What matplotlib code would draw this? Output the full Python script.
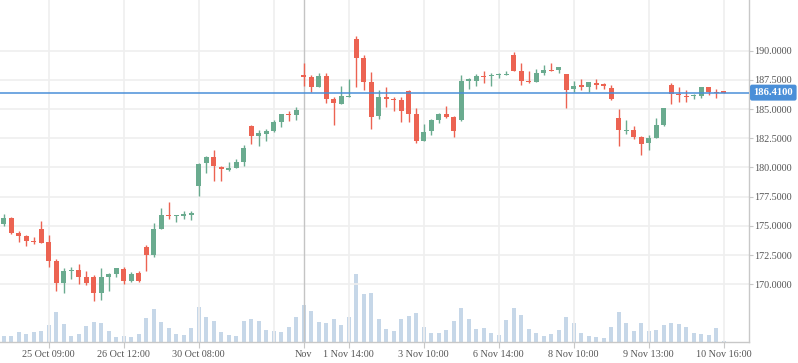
import matplotlib
matplotlib.use('Agg')
import matplotlib.pyplot as plt
import matplotlib.transforms as mtransforms

# candle data (one entry per bar)
opens = [175.16, 175.68, 174.36, 174.13, 173.71, 174.73, 173.62, 172.00, 170.14, 171.15,
         171.22, 170.60, 170.60, 169.28, 170.65, 170.88, 171.31, 170.31, 170.97, 173.19,
         172.54, 174.76, 175.90, 175.85, 175.88, 175.96, 178.44, 180.41, 180.90, 180.07,
         179.81, 179.98, 180.50, 183.55, 182.72, 182.90, 183.15, 183.92, 184.55, 184.52,
         187.92, 187.75, 186.92, 187.83, 185.86, 185.46, 186.06, 191.00, 189.37, 187.32,
         184.44, 186.03, 185.86, 185.78, 186.55, 184.58, 182.30, 183.15, 184.10, 184.58,
         184.33, 184.07, 187.44, 187.40, 187.83, 187.80, 187.92, 187.89, 189.63, 188.26,
         187.43, 187.32, 188.09, 188.35, 188.38, 188.00, 186.75, 187.06, 186.92, 187.26,
         187.12, 186.81, 184.24, 183.15, 183.21, 182.58, 182.13, 182.55, 183.67, 187.06,
         186.26, 186.15, 186.09, 186.15, 186.89, 186.46, 186.44]
highs = [176.02, 175.73, 174.56, 174.22, 174.05, 175.42, 174.22, 172.17, 171.40, 171.48,
         171.74, 171.14, 170.80, 171.40, 170.94, 171.40, 171.48, 171.02, 171.14, 173.37,
         175.22, 176.53, 177.05, 175.93, 176.28, 176.27, 180.41, 180.98, 181.50, 180.16,
         180.47, 180.73, 181.92, 183.64, 183.21, 183.30, 184.07, 184.58, 184.84, 185.18,
         188.95, 187.92, 188.09, 188.09, 186.03, 186.98, 187.58, 191.26, 189.63, 188.18,
         186.64, 186.89, 186.06, 186.06, 186.64, 185.09, 183.72, 184.18, 184.69, 185.27,
         184.44, 187.92, 187.69, 188.03, 188.26, 188.12, 188.12, 188.29, 189.89, 188.95,
         188.26, 188.43, 188.77, 188.95, 188.60, 188.00, 187.40, 187.58, 187.32, 187.58,
         187.20, 187.06, 185.01, 184.10, 183.55, 182.70, 182.78, 184.24, 185.09, 187.23,
         186.89, 186.61, 186.32, 186.89, 186.89, 186.72, 186.44]
lows = [174.99, 174.34, 173.65, 173.31, 173.45, 173.57, 171.51, 169.45, 169.28, 170.48,
        170.05, 169.97, 168.60, 168.65, 169.45, 170.65, 170.05, 170.23, 170.23, 171.17,
        172.37, 174.76, 175.62, 175.36, 175.62, 175.50, 177.59, 179.56, 178.87, 178.87,
        179.73, 179.98, 180.16, 182.04, 181.87, 182.30, 183.07, 183.50, 184.01, 184.10,
        187.00, 186.44, 186.92, 185.55, 183.67, 185.46, 186.06, 186.92, 186.66, 183.32,
        184.18, 185.21, 184.87, 183.93, 183.93, 182.13, 182.30, 182.81, 183.84, 184.27,
        182.61, 184.01, 186.72, 187.00, 187.23, 187.00, 187.69, 187.89, 188.29, 187.09,
        187.26, 187.32, 187.95, 188.26, 188.12, 185.12, 186.49, 186.66, 186.46, 186.75,
        186.75, 185.81, 181.87, 182.90, 182.47, 181.10, 181.53, 182.55, 183.55, 185.44,
        185.61, 185.64, 185.84, 185.98, 186.24, 185.98, 186.41]
closes = [175.68, 174.42, 174.17, 173.73, 173.59, 173.57, 172.02, 170.14, 171.14, 171.22,
          170.65, 170.14, 169.28, 170.60, 170.88, 171.40, 170.31, 170.88, 170.31, 172.54,
          174.73, 175.93, 175.82, 175.93, 175.93, 176.13, 180.33, 180.90, 180.16, 179.84,
          179.96, 180.47, 181.67, 182.72, 182.95, 183.15, 183.87, 184.58, 184.50, 184.92,
          187.78, 186.92, 187.83, 185.89, 185.55, 186.12, 186.15, 189.40, 187.35, 184.35,
          186.00, 185.89, 185.78, 184.87, 184.61, 182.30, 183.04, 184.07, 184.58, 184.35,
          183.15, 187.40, 187.52, 187.83, 187.75, 187.95, 188.00, 187.98, 188.29, 187.40,
          187.32, 188.09, 188.35, 188.26, 188.60, 186.66, 186.98, 186.92, 187.32, 187.09,
          186.95, 185.86, 183.24, 183.24, 182.64, 182.04, 182.50, 183.64, 185.09, 186.32,
          186.18, 186.06, 186.18, 186.89, 186.46, 186.38, 186.41]
volumes = [18, 18, 30, 24, 30, 33, 51, 90, 54, 18,
           24, 48, 60, 57, 33, 15, 18, 15, 24, 72,
           99, 60, 42, 24, 21, 42, 105, 75, 63, 30,
           21, 18, 63, 69, 63, 36, 33, 30, 45, 75,
           111, 93, 60, 57, 69, 51, 75, 204, 144, 147,
           69, 39, 33, 69, 78, 87, 45, 27, 27, 36,
           63, 102, 69, 39, 42, 27, 21, 66, 102, 81,
           39, 27, 18, 24, 36, 75, 57, 27, 18, 15,
           12, 45, 90, 57, 33, 57, 33, 36, 51, 57,
           54, 45, 27, 24, 21, 42, 3]

last_price = 186.41
tick_pos = [6, 16, 26, 40, 46, 56, 66, 76, 86, 96]
tick_labels = ['25 Oct 09:00', '26 Oct 12:00', '30 Oct 08:00', 'Nov', '1 Nov 14:00',
               '3 Nov 10:00', '6 Nov 14:00', '8 Nov 10:00', '9 Nov 13:00', '10 Nov 16:00']
grid_pos = [6, 16, 26, 36, 46, 56, 66, 76, 86, 96]
month_pos = 40
y_ticks = [170, 172.5, 175, 177.5, 180, 182.5, 185, 187.5, 190]

UP = '#6aab8f'
DOWN = '#ec6352'
VOL = '#c6d7e8'
GRID = '#efefef'
AXIS = '#c8c8c8'
BLUE = '#4a8fd8'

plt.rcParams['font.family'] = ['Liberation Serif', 'DejaVu Serif']

fig = plt.figure(figsize=(7.98, 3.63), dpi=100)
ax = fig.add_axes([0, 21 / 363, 749 / 798, 342 / 363])
axv = ax.twinx()
ax.set_zorder(axv.get_zorder() + 1)
ax.patch.set_visible(False)

x = list(range(len(opens)))

# volume underneath
axv.bar(x, volumes, width=0.58, color=VOL, linewidth=0)
axv.set_ylim(0, 1026)
axv.set_yticks([])
for s in axv.spines.values():
    s.set_visible(False)

# grid
for g in grid_pos:
    ax.axvline(g, color=GRID, lw=1.2, zorder=0)
ax.axvline(month_pos, color='#c4c4c4', lw=1.0, zorder=0.5)
for yt in y_ticks:
    ax.axhline(yt, color=GRID, lw=1.2, zorder=0)

# candles
colors = [UP if c >= o else DOWN for o, c in zip(opens, closes)]
ax.vlines(x, lows, highs, colors=colors, lw=1.0, zorder=2)
bottoms = [min(o, c) for o, c in zip(opens, closes)]
heights = [max(abs(c - o), 0.1) for o, c in zip(opens, closes)]
ax.bar(x, heights, bottom=bottoms, width=0.66, color=colors, linewidth=0, zorder=3)

# last price line + label
ax.axhline(last_price, color=BLUE, lw=1.1, zorder=4)
trans = mtransforms.blended_transform_factory(ax.transAxes, ax.transData)
ax.text(1.006, last_price, f'{last_price:.4f}', transform=trans, ha='left', va='center',
        color='white', fontsize=7.6, fontweight='bold', zorder=6, clip_on=False,
        bbox=dict(boxstyle='round,pad=0.33,rounding_size=0.2', fc=BLUE, ec='none'))

ax.set_xlim(-0.493, 99.37)
ax.set_ylim(165.06, 194.34)

ax.yaxis.tick_right()
ax.set_yticks(y_ticks)
ax.set_yticklabels([f'{v:.4f}' for v in y_ticks])
ax.set_xticks(tick_pos)
ax.set_xticklabels(tick_labels)
for lbl in ax.get_xticklabels():
    if lbl.get_text() == 'Nov':
        lbl.set_color('#222222')

ax.tick_params(axis='y', length=3, pad=1, color=AXIS, labelcolor='#555555', labelsize=7.3)
ax.tick_params(axis='x', length=4, pad=2, color=AXIS, labelcolor='#555555', labelsize=7.3)

for side in ['left', 'top']:
    ax.spines[side].set_visible(False)
for side in ['right', 'bottom']:
    ax.spines[side].set_color(AXIS)
    ax.spines[side].set_linewidth(1.0)

fig.savefig('out.png', dpi=100)
